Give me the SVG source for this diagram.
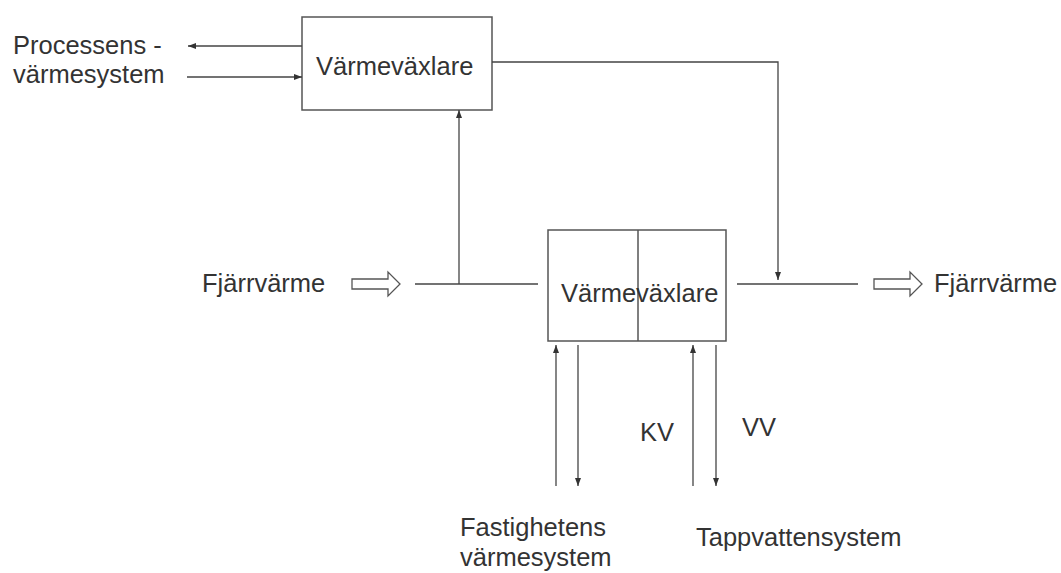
<svg xmlns="http://www.w3.org/2000/svg" width="1061" height="573" viewBox="0 0 1061 573">
<style>
.box{fill:#fff;stroke:#555;stroke-width:1.5}
.ln{fill:none;stroke:#444;stroke-width:1.3}
.ha{fill:#fff;stroke:#555;stroke-width:1.3}
text{font-family:"Liberation Sans",Arial,sans-serif;font-size:25.5px;fill:#333}
</style>
<defs>
<marker id="ah" viewBox="0 0 8 6" refX="8" refY="3" markerWidth="8" markerHeight="6" markerUnits="userSpaceOnUse" orient="auto">
<path d="M0,0 L8,3 L0,6 Z" fill="#333"/>
</marker>
</defs>
<rect width="1061" height="573" fill="#fff"/>
<g id="hx-top">
<rect class="box" x="302" y="17" width="190" height="93"/>
<text x="316" y="75">Värmeväxlare</text>
</g>
<g id="hx-bottom">
<rect class="box" x="548" y="230" width="178" height="111"/>
<line class="box" x1="638" y1="230" x2="638" y2="341"/>
<text x="561" y="302">Värmeväxlare</text>
</g>
<g id="process-label">
<text x="13" y="54">Processens -</text>
<text x="13" y="83">värmesystem</text>
</g>
<g id="fjv-in">
<text x="202" y="292">Fjärrvärme</text>
<path class="ha" d="M352,279 H388 V272 L400,284 L388,296 V289 H352 Z"/>
</g>
<g id="fjv-out">
<path class="ha" d="M874,279 H910 V272 L922,284 L910,296 V289 H874 Z"/>
<text x="934" y="292">Fjärrvärme</text>
</g>
<g id="building-label">
<text x="460" y="536">Fastighetens</text>
<text x="460" y="566">värmesystem</text>
</g>
<g id="tap-label">
<text x="696" y="546">Tappvattensystem</text>
</g>
<g id="kv-label"><text x="640" y="441">KV</text></g>
<g id="vv-label"><text x="742" y="436">VV</text></g>
<g id="connectors">
<line class="ln" x1="302" y1="46" x2="188" y2="46" marker-end="url(#ah)"/>
<line class="ln" x1="187" y1="77" x2="302" y2="77" marker-end="url(#ah)"/>
<line class="ln" x1="415" y1="284" x2="538" y2="284"/>
<line class="ln" x1="459" y1="284" x2="459" y2="110" marker-end="url(#ah)"/>
<polyline class="ln" points="492,62 778,62 778,280" marker-end="url(#ah)"/>
<line class="ln" x1="737" y1="284" x2="858" y2="284"/>
<line class="ln" x1="556" y1="486" x2="556" y2="345" marker-end="url(#ah)"/>
<line class="ln" x1="578" y1="345" x2="578" y2="486" marker-end="url(#ah)"/>
<line class="ln" x1="693" y1="486" x2="693" y2="345" marker-end="url(#ah)"/>
<line class="ln" x1="716" y1="345" x2="716" y2="486" marker-end="url(#ah)"/>
</g>
</svg>
